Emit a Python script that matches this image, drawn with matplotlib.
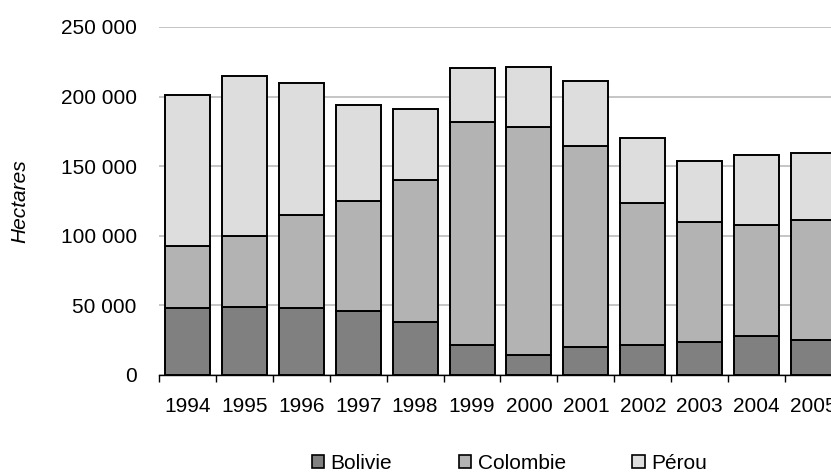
import numpy as np
import matplotlib
matplotlib.use("Agg")
import matplotlib.pyplot as plt
from matplotlib.patches import Patch
from matplotlib.ticker import FuncFormatter, MultipleLocator

# coca cultivation, hectares
years = ["1994", "1995", "1996", "1997", "1998", "1999",
         "2000", "2001", "2002", "2003", "2004", "2005"]
bolivie = [48100, 48600, 48100, 45800, 38000, 21800,
           14600, 19900, 21600, 23600, 27700, 25400]
colombie = [44700, 50900, 67200, 79400, 101800, 160100,
            163300, 144800, 102000, 86000, 80000, 86000]
perou = [108600, 115300, 94400, 68800, 51000, 38700,
         43400, 46200, 46700, 44200, 50300, 48200]

series_names = ["Bolivie", "Colombie", "Pérou"]
colors = ["#808080", "#b3b3b3", "#dddddd"]

plt.rcParams["font.family"] = ["Liberation Sans", "DejaVu Sans"]
plt.rcParams["font.size"] = 15

fig = plt.figure(figsize=(8.31, 4.74), dpi=100)
ax = fig.add_axes([159 / 831, 1 - 375 / 474, 683 / 831, 348 / 474])

x = np.arange(len(years))
bottom = np.zeros(len(years))
for vals, col in zip([bolivie, colombie, perou], colors):
    ax.bar(x, vals, width=0.79, bottom=bottom, color=col,
           edgecolor="black", linewidth=1.4, zorder=3)
    bottom += np.array(vals)

ax.set_xlim(-0.5, len(years) - 0.5)
ax.set_ylim(0, 250000)
ax.yaxis.set_major_locator(MultipleLocator(50000))
ax.yaxis.set_major_formatter(FuncFormatter(lambda v, p: f"{int(v):,}".replace(",", " ")))
ax.grid(axis="y", color="#c0c0c0", linewidth=1.3)
ax.set_axisbelow(True)

for s in ["top", "right", "left"]:
    ax.spines[s].set_visible(False)
ax.spines["bottom"].set_linewidth(1.0)

ax.set_xticks(x)
ax.set_xticklabels(years)
ax.set_xticks(np.arange(-0.5, len(years)), minor=True)
ax.tick_params(axis="x", which="major", length=0, pad=16)
ax.tick_params(axis="x", which="minor", length=5, width=1.0, direction="out")
ax.tick_params(axis="y", length=0, pad=16)

fig.text(20 / 831, 1 - 201 / 474, "Hectares", rotation=90, style="italic",
         ha="center", va="center")

handles = [Patch(facecolor=c, edgecolor="black", linewidth=1.2) for c in colors]
fig.legend(handles, series_names, loc="center", bbox_to_anchor=(0.613, 0.022),
           ncol=3, frameon=False, handlelength=0.6, handleheight=0.6,
           handletextpad=0.3, columnspacing=3.2, borderpad=0)

fig.savefig("out.png", dpi=100)
